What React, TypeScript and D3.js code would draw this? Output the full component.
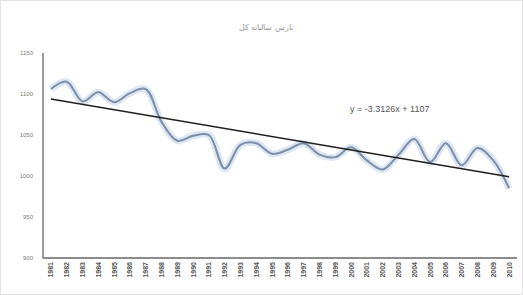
import * as d3 from "d3";
import { useEffect, useRef } from "react";

const years = d3.range(1981, 2011).map(String);
const values = [
  1106, 1115, 1091, 1102, 1090, 1101, 1106, 1066, 1043, 1049,
  1050, 1009, 1038, 1040, 1027, 1032, 1040, 1026, 1023, 1035,
  1019, 1008, 1026, 1045, 1017, 1040, 1013, 1034, 1019, 985,
];
const yTicks = [900, 950, 1000, 1050, 1100, 1150];
const title = "بارش سالیانه کل";
const equation = "y = -3.3126x + 1107";

const App: React.FC = () => {
  const svgRef = useRef<SVGSVGElement | null>(null);

  useEffect(() => {
    const svg = d3.select(svgRef.current);
    svg.selectAll("*").remove();

    const width = 523, height = 295;
    const left = 43, right = 517, top = 53, bottom = 258;

    svg.append("rect")
      .attr("x", 0.5).attr("y", 0.5)
      .attr("width", width - 1).attr("height", height - 1)
      .attr("fill", "#fff").attr("stroke", "#e2e2e2");

    const x = d3.scaleBand().domain(years).range([left, right]);
    const y = d3.scaleLinear().domain([900, 1150]).range([bottom, top]);
    const cx = (d: string) => (x(d) as number) + x.bandwidth() / 2;

    // title
    svg.append("text")
      .attr("x", 266).attr("y", 30)
      .attr("text-anchor", "middle")
      .style("font-family", "'Noto Sans', sans-serif")
      .style("font-size", "8px")
      .attr("fill", "#9a9a9a")
      .text(title);

    // y labels
    svg.selectAll("text.ytick")
      .data(yTicks)
      .join("text")
      .attr("class", "ytick")
      .attr("x", 33).attr("y", d => y(d) + 2)
      .attr("text-anchor", "end")
      .style("font-family", "'Liberation Sans', sans-serif")
      .style("font-size", "6px")
      .attr("fill", "#7a7a7a")
      .text(d => d);

    // x labels
    svg.selectAll("text.xtick")
      .data(years)
      .join("text")
      .attr("class", "xtick")
      .attr("transform", d => `translate(${cx(d) + 2.5},${bottom + 4}) rotate(-90)`)
      .attr("text-anchor", "end")
      .style("font-family", "'Liberation Sans', sans-serif")
      .style("font-size", "7px")
      .style("font-weight", "bold")
      .attr("fill", "#555")
      .text(d => d);

    // series
    const line = d3.line<number>()
      .x((_, i) => cx(years[i]))
      .y(d => y(d))
      .curve(d3.curveCatmullRom.alpha(0.5));

    svg.append("path")
      .attr("d", line(values))
      .attr("fill", "none")
      .attr("stroke", "#dce7f3")
      .attr("stroke-width", 7)
      .attr("stroke-linejoin", "round");
    svg.append("path")
      .attr("d", line(values))
      .attr("fill", "none")
      .attr("stroke", "#7d8ea6")
      .attr("stroke-width", 2);

    // linear trend from data
    const n = values.length;
    const xs = d3.range(1, n + 1);
    const mx = d3.mean(xs) as number, my = d3.mean(values) as number;
    const slope = d3.sum(xs, (v, i) => (v - mx) * (values[i] - my)) / d3.sum(xs, v => (v - mx) ** 2);
    const icpt = my - slope * mx;
    svg.append("line")
      .attr("x1", cx(years[0])).attr("y1", y(icpt + slope))
      .attr("x2", cx(years[n - 1])).attr("y2", y(icpt + slope * n))
      .attr("stroke", "#1e1e1e").attr("stroke-width", 1.5);

    svg.append("text")
      .attr("x", 350).attr("y", 112)
      .style("font-family", "'Liberation Sans', sans-serif")
      .style("font-size", "9px")
      .attr("fill", "#555")
      .text(equation);

    // axes
    svg.append("line")
      .attr("x1", left).attr("x2", left).attr("y1", top).attr("y2", bottom)
      .attr("stroke", "#666").attr("stroke-width", 1.3);
    svg.append("line")
      .attr("x1", left).attr("x2", right).attr("y1", bottom).attr("y2", bottom)
      .attr("stroke", "#666").attr("stroke-width", 1.3);
  }, []);

  return (
    <svg ref={svgRef} width={523} height={295}
      style={{ position: "absolute", left: 0, top: 0 }} />
  );
};

export default App;
